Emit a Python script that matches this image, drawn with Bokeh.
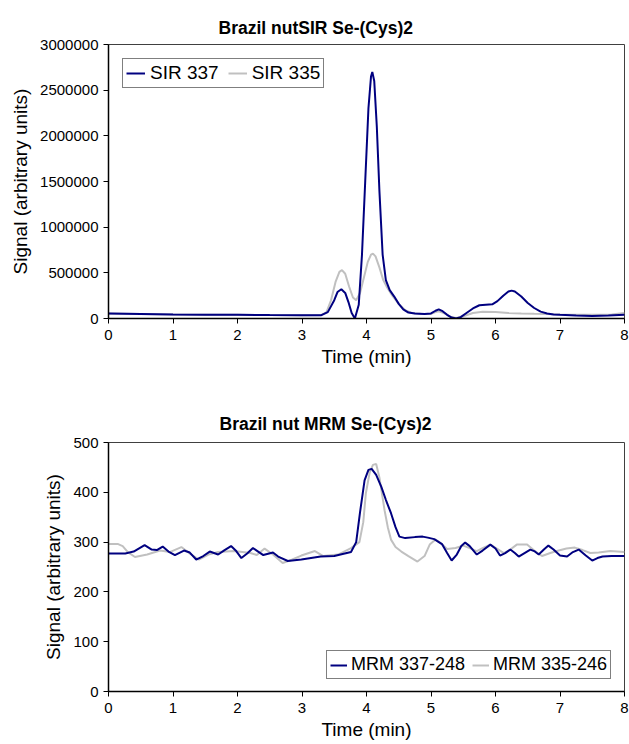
from bokeh.plotting import figure
from bokeh.layouts import column
from bokeh.models import FixedTicker, BasicTickFormatter, Legend, LegendItem
from bokeh.embed import file_html
from bokeh.resources import INLINE

# ---- Top chart data (SIR) ----
sir_time_337 = [0, 0.5, 1, 1.5, 2, 2.5, 3, 3.3, 3.4, 3.5, 3.55, 3.61, 3.67, 3.72, 3.77, 3.82,
                3.88, 3.93, 3.98, 4.03, 4.07, 4.09, 4.12, 4.16, 4.2, 4.25, 4.3, 4.36, 4.43,
                4.5, 4.57, 4.65, 4.75, 4.9, 5.0, 5.07, 5.12, 5.18, 5.25, 5.32, 5.39, 5.46,
                5.55, 5.65, 5.75, 5.85, 5.95, 6.03, 6.12, 6.2, 6.25, 6.3, 6.4, 6.5, 6.6,
                6.7, 6.8, 6.9, 7.0, 7.25, 7.5, 7.75, 8]
sir_337 = [55000, 50000, 45000, 42000, 40000, 37000, 35000, 36000, 70000, 200000, 290000, 320000,
           280000, 180000, 60000, 0, 150000, 700000, 1500000, 2300000, 2650000, 2700000,
           2600000, 2100000, 1400000, 700000, 420000, 310000, 240000, 160000, 100000, 65000,
           55000, 50000, 55000, 85000, 100000, 80000, 40000, 10000, 0, 15000, 60000, 110000,
           145000, 150000, 155000, 190000, 250000, 295000, 305000, 295000, 240000, 170000,
           115000, 75000, 55000, 45000, 40000, 32000, 28000, 32000, 40000]

sir_time_335 = [0, 0.5, 1, 1.5, 2, 2.5, 3, 3.3, 3.38, 3.45, 3.52, 3.58, 3.62, 3.67, 3.73, 3.79,
                3.84, 3.9, 3.96, 4.02, 4.07, 4.1, 4.14, 4.2, 4.26, 4.32, 4.4, 4.5, 4.6, 4.7,
                4.85, 5.0, 5.07, 5.12, 5.2, 5.3, 5.39, 5.5, 5.65, 5.8, 6.0, 6.2, 6.4, 6.6,
                6.8, 7.0, 7.5, 7.8, 8]
sir_335 = [55000, 50000, 45000, 42000, 40000, 37000, 36000, 38000, 70000, 200000, 400000, 510000,
           530000, 490000, 350000, 230000, 200000, 280000, 450000, 620000, 700000, 710000,
           680000, 560000, 420000, 340000, 250000, 160000, 90000, 60000, 48000, 50000, 70000,
           80000, 60000, 20000, 5000, 25000, 60000, 75000, 72000, 60000, 55000, 52000, 50000,
           45000, 40000, 45000, 60000]

sir_yticks = [0, 500000, 1000000, 1500000, 2000000, 2500000, 3000000]
time_ticks = [0, 1, 2, 3, 4, 5, 6, 7, 8]

# ---- Bottom chart data (MRM) ----
mrm_time_337 = [0, 0.26, 0.39, 0.56, 0.67, 0.75, 0.84, 0.93, 1.03, 1.17, 1.26, 1.36, 1.47, 1.57,
                1.7, 1.8, 1.9, 1.98, 2.06, 2.15, 2.24, 2.32, 2.4, 2.55, 2.63, 2.78, 2.99, 3.29,
                3.5, 3.76, 3.84, 3.9, 3.97, 4.03, 4.08, 4.15, 4.23, 4.3, 4.38, 4.45, 4.51, 4.6,
                4.75, 4.87, 4.95, 5.05, 5.17, 5.25, 5.32, 5.4, 5.47, 5.53, 5.6, 5.71, 5.8, 5.92,
                6.0, 6.07, 6.15, 6.23, 6.3, 6.36, 6.45, 6.54, 6.6, 6.67, 6.75, 6.82, 6.9, 7.0,
                7.11, 7.2, 7.29, 7.4, 7.5, 7.58, 7.66, 7.8, 8]
mrm_337 = [277, 277, 281, 294, 285, 284, 291, 281, 274, 283, 279, 265, 272, 281, 275, 284, 292,
           282, 268, 277, 288, 281, 274, 279, 271, 262, 265, 271, 272, 280, 300, 360, 424, 445,
           447, 435, 411, 385, 358, 330, 311, 308, 310, 311, 309, 306, 296, 278, 263, 275, 292,
           299, 292, 275, 283, 295, 287, 273, 278, 285, 278, 271, 278, 285, 282, 275, 285, 293,
           285, 273, 271, 280, 285, 273, 263, 268, 271, 272, 272]

mrm_time_335 = [0, 0.15, 0.22, 0.3, 0.41, 0.6, 0.8, 0.95, 1.13, 1.25, 1.4, 1.55, 1.7, 1.95, 2.2,
                2.3, 2.42, 2.55, 2.7, 2.85, 2.99, 3.2, 3.33, 3.56, 3.76, 3.89, 3.95, 3.99, 4.05,
                4.1, 4.15, 4.2, 4.28, 4.33, 4.38, 4.45, 4.54, 4.65, 4.79, 4.9, 4.98, 5.07, 5.15,
                5.25, 5.38, 5.5, 5.6, 5.71, 5.8, 5.92, 6.02, 6.13, 6.23, 6.33, 6.49, 6.6, 6.72,
                6.85, 6.95, 7.1, 7.23, 7.35, 7.47, 7.6, 7.78, 8]
mrm_335 = [296, 296, 292, 280, 270, 275, 283, 280, 290, 278, 265, 275, 280, 282, 278, 274, 287,
           275, 258, 265, 273, 282, 272, 275, 288, 300, 340, 398, 440, 455, 457, 430, 364, 330,
           305, 290, 281, 272, 261, 272, 295, 305, 298, 286, 288, 293, 288, 282, 288, 295, 287,
           278, 285, 295, 295, 283, 272, 278, 282, 287, 289, 284, 278, 279, 282, 280]

mrm_yticks = [0, 100, 200, 300, 400, 500]

NAVY = "#000080"
GRAY = "#c0c0c0"
FONT = "Liberation Sans"


def style(p, yticks):
    p.title.text_font = FONT
    p.title.text_font_size = "17.5px"
    p.title.text_font_style = "bold"
    p.title.align = "left"
    p.title.text_color = "black"
    p.outline_line_color = "#404040"
    p.outline_line_width = 1
    p.xgrid.visible = False
    p.ygrid.visible = False
    for ax in (p.xaxis[0], p.yaxis[0]):
        ax.axis_line_color = "black"
        ax.axis_line_width = 1.5
        ax.major_tick_line_color = "black"
        ax.major_tick_out = 5
        ax.major_tick_in = 0
        ax.minor_tick_line_color = None
        ax.major_label_text_font = FONT
        ax.major_label_text_font_size = "15px"
        ax.major_label_text_color = "black"
        ax.axis_label_text_font = FONT
        ax.axis_label_text_font_size = "19px"
        ax.axis_label_text_font_style = "normal"
        ax.axis_label_text_color = "black"
    p.xaxis[0].ticker = FixedTicker(ticks=time_ticks)
    p.yaxis[0].ticker = FixedTicker(ticks=yticks)
    p.yaxis[0].formatter = BasicTickFormatter(use_scientific=False)
    p.xaxis[0].major_label_standoff = 6
    p.xaxis[0].axis_label_standoff = 3
    p.yaxis[0].major_label_standoff = 5
    p.yaxis[0].axis_label_standoff = 6


p1 = figure(width=629, height=380, output_backend="svg", toolbar_location=None,
            title="Brazil nutSIR Se-(Cys)2", x_range=(0, 8), y_range=(0, 3000000),
            x_axis_label="Time (min)", y_axis_label="Signal (arbitrary units)",
            min_border_left=108, min_border_right=3, min_border_top=44, min_border_bottom=62)
style(p1, sir_yticks)
p1.title.offset = 110
p1.title.standoff = 10
p1.title.vertical_align = "top"
r1 = p1.line(sir_time_337, sir_337, line_color=NAVY, line_width=2)
r2 = p1.line(sir_time_335, sir_335, line_color=GRAY, line_width=2)
p1.renderers = [r2, r1]
leg1 = Legend(items=[LegendItem(label="SIR 337", renderers=[r1]),
                     LegendItem(label="SIR 335", renderers=[r2])],
              orientation="horizontal", location=(14, 230))
p1.add_layout(leg1, "center")

p2 = figure(width=629, height=362, output_backend="svg", toolbar_location=None,
            title="Brazil nut MRM Se-(Cys)2", x_range=(0, 8), y_range=(0, 500),
            x_axis_label="Time (min)", y_axis_label="Signal (arbitrary units)",
            min_border_left=107, min_border_right=5, min_border_top=62, min_border_bottom=50)
style(p2, mrm_yticks)
p2.title.offset = 111
p2.title.standoff = 17
s1 = p2.line(mrm_time_337, mrm_337, line_color=NAVY, line_width=2)
s2 = p2.line(mrm_time_335, mrm_335, line_color=GRAY, line_width=2)
p2.renderers = [s2, s1]
leg2 = Legend(items=[LegendItem(label="MRM 337-248", renderers=[s1]),
                     LegendItem(label="MRM 335-246", renderers=[s2])],
              orientation="horizontal", location=(218, 12))
p2.add_layout(leg2, "center")

for lg in (leg1, leg2):
    lg.label_text_font = FONT
    lg.label_text_color = "black"
    lg.border_line_color = "black"
    lg.border_line_width = 1
    lg.background_fill_alpha = 1
    lg.padding = 3
    lg.glyph_height = 18
    lg.margin = 0
leg1.label_text_font_size = "19px"
leg1.label_height = 20
leg1.glyph_width = 19
leg1.label_standoff = 5
leg1.spacing = 9
leg2.label_text_font_size = "18px"
leg2.label_height = 18
leg2.glyph_width = 17
leg2.label_standoff = 4
leg2.spacing = 7

layout = column(p1, p2, spacing=0)
open("out.html", "w").write(file_html(layout, INLINE))
